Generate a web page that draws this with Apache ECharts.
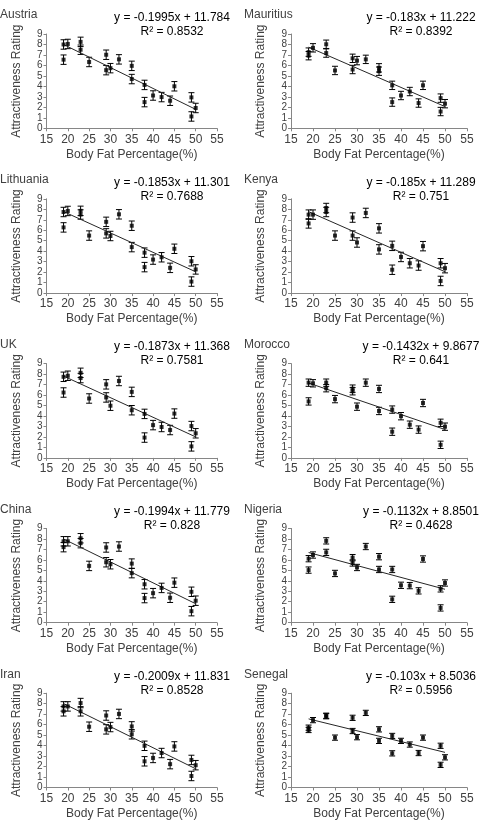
<!DOCTYPE html>
<html>
<head>
<meta charset="utf-8">
<script src="https://cdn.jsdelivr.net/npm/echarts@6/dist/echarts.min.js"></script>
<style>
  html, body { margin: 0; padding: 0; background: #fff; }
  #main { width: 481px; height: 825px; }
</style>
</head>
<body>
<div id="main"></div>
<script>
// body fat levels of the stimuli (same for every country)
var xFat = [19, 19, 20, 23, 23, 25, 29, 29, 30, 32, 35, 35, 38, 38, 40, 42, 44, 45, 49, 49, 50];

// mean attractiveness ratings
var austria   = [8.0, 6.55, 8.05, 8.25, 7.5, 6.33, 7.02, 5.55, 5.74, 6.58, 5.96, 4.7, 4.14, 2.5, 3.13, 2.98, 2.63, 4.01, 2.95, 1.13, 1.94];
var mauritius = [7.27, 6.93, 7.68, 8.02, 7.18, 5.52, 6.68, 5.61, 6.46, 6.58, 5.77, 5.45, 4.1, 2.5, 3.13, 3.51, 2.41, 4.1, 2.88, 1.6, 2.35];
var lithuania = [7.74, 6.27, 7.84, 7.85, 7.5, 5.49, 6.8, 5.7, 5.45, 7.52, 6.43, 4.39, 3.86, 2.48, 3.2, 3.42, 2.41, 4.23, 3.04, 1.1, 2.26];
var kenya     = [7.49, 6.65, 7.49, 8.12, 7.74, 5.49, 7.21, 5.49, 4.83, 7.65, 6.18, 4.17, 4.51, 2.23, 3.45, 2.85, 2.63, 4.48, 2.85, 1.16, 2.38];
var uk        = [7.74, 6.24, 7.84, 8.12, 7.62, 5.67, 7.02, 5.77, 4.98, 7.34, 6.3, 4.55, 4.2, 1.94, 3.13, 2.95, 2.66, 4.23, 3.04, 1.1, 2.35];
var morocco   = [7.18, 5.39, 7.12, 7.18, 6.65, 5.61, 6.61, 6.36, 4.89, 7.18, 6.58, 4.48, 4.61, 2.5, 3.98, 3.17, 2.7, 5.24, 3.35, 1.25, 2.98];
var china     = [7.77, 7.21, 7.77, 8.06, 7.59, 5.42, 7.18, 5.77, 5.58, 7.27, 5.64, 4.73, 3.67, 2.35, 2.82, 3.32, 2.38, 3.82, 2.95, 1.1, 2.1];
var nigeria   = [6.11, 5.02, 6.46, 7.81, 6.71, 4.7, 6.21, 5.7, 5.27, 7.27, 6.3, 5.08, 5.08, 2.23, 3.57, 3.54, 3.04, 6.08, 3.23, 1.41, 3.79];
var iran      = [7.74, 7.27, 7.74, 8.06, 7.27, 5.8, 6.87, 5.55, 5.77, 7.02, 5.83, 5.08, 3.98, 2.5, 2.82, 3.29, 2.23, 3.92, 2.63, 1.1, 2.13];
var senegal   = [5.71, 5.49, 6.43, 6.85, 6.8, 4.76, 6.65, 5.39, 4.8, 7.12, 5.55, 4.45, 4.92, 3.26, 4.45, 4.1, 3.29, 4.76, 3.98, 2.16, 2.88];

var countries = ['Austria', 'Mauritius', 'Lithuania', 'Kenya', 'UK', 'Morocco', 'China', 'Nigeria', 'Iran', 'Senegal'];
var ratings = [austria, mauritius, lithuania, kenya, uk, morocco, china, nigeria, iran, senegal];
// half length of the error bars
var errBar = [0.45, 0.4, 0.45, 0.45, 0.45, 0.35, 0.45, 0.3, 0.45, 0.25];
// trend lines as printed on the panels
var slopes = [-0.1995, -0.183, -0.1853, -0.185, -0.1873, -0.1432, -0.1994, -0.1132, -0.2009, -0.103];
var intercepts = [11.784, 11.222, 11.301, 11.289, 11.368, 9.8677, 11.779, 8.8501, 11.831, 8.5036];
var eqTexts = ['y = -0.1995x + 11.784', 'y = -0.183x + 11.222', 'y = -0.1853x + 11.301', 'y = -0.185x + 11.289',
    'y = -0.1873x + 11.368', 'y = -0.1432x + 9.8677', 'y = -0.1994x + 11.779', 'y = -0.1132x + 8.8501',
    'y = -0.2009x + 11.831', 'y = -0.103x + 8.5036'];
var r2Texts = ['R² = 0.8532', 'R² = 0.8392', 'R² = 0.7688', 'R² = 0.751', 'R² = 0.7581',
    'R² = 0.641', 'R² = 0.828', 'R² = 0.4628', 'R² = 0.8528', 'R² = 0.5956'];
var xRange = [15, 55];
var yRange = [0, 9];

var chart = echarts.init(document.getElementById('main'), null, { renderer: 'canvas' });

var textColor = '#404040';
var axisColor = '#868686';
var font = 'Liberation Sans, Arial, sans-serif';
var rowStep = 164.8;

var grids = [], xAxes = [], yAxes = [], series = [], graphics = [];

for (var i = 0; i < countries.length; i++) {
    var col = i % 2;
    var row = Math.floor(i / 2);
    var offY = row * rowStep;
    grids.push({
        left: col == 0 ? 46.5 : 291,
        width: col == 0 ? 170.5 : 176,
        top: 34 + offY,
        height: 94.3
    });
    xAxes.push({
        gridIndex: i,
        type: 'value',
        min: xRange[0],
        max: xRange[1],
        interval: 5,
        name: 'Body Fat Percentage(%)',
        nameLocation: 'middle',
        nameGap: 20,
        nameTextStyle: { fontSize: 12, color: textColor, fontFamily: font },
        axisLine: { show: true, lineStyle: { color: axisColor, width: 1 } },
        axisTick: { show: true, length: 3, lineStyle: { color: axisColor } },
        axisLabel: { fontSize: 12, color: textColor, fontFamily: font, margin: 5, showMinLabel: true, showMaxLabel: true, hideOverlap: false },
        splitLine: { show: false }
    });
    yAxes.push({
        gridIndex: i,
        type: 'value',
        min: yRange[0],
        max: yRange[1],
        interval: 1,
        name: 'Attractiveness Rating',
        nameLocation: 'middle',
        nameGap: 24,
        nameTextStyle: { fontSize: 12, color: textColor, fontFamily: font },
        axisLine: { show: true, lineStyle: { color: axisColor, width: 1 } },
        axisTick: { show: true, length: 3, lineStyle: { color: axisColor } },
        axisLabel: { fontSize: 10, lineHeight: 9, color: textColor, fontFamily: font, margin: 4, showMinLabel: true, showMaxLabel: true, hideOverlap: false },
        splitLine: { show: false }
    });

    var pts = [], errs = [];
    for (var k = 0; k < xFat.length; k++) {
        pts.push([xFat[k], ratings[i][k]]);
        errs.push([xFat[k], ratings[i][k], errBar[i]]);
    }
    var x0 = xFat[0], x1 = xFat[xFat.length - 1];

    series.push({
        type: 'custom',
        xAxisIndex: i,
        yAxisIndex: i,
        silent: true,
        z: 2,
        data: errs,
        renderItem: function (params, api) {
            var x = api.value(0), y = api.value(1), e = api.value(2);
            var top = api.coord([x, y + e]);
            var bot = api.coord([x, y - e]);
            var cap = 3;
            var st = { stroke: '#000', lineWidth: 1 };
            return {
                type: 'group',
                children: [
                    { type: 'line', shape: { x1: top[0], y1: top[1], x2: bot[0], y2: bot[1] }, style: st },
                    { type: 'line', shape: { x1: top[0] - cap, y1: top[1], x2: top[0] + cap, y2: top[1] }, style: st },
                    { type: 'line', shape: { x1: bot[0] - cap, y1: bot[1], x2: bot[0] + cap, y2: bot[1] }, style: st }
                ]
            };
        }
    });
    series.push({
        type: 'line',
        xAxisIndex: i,
        yAxisIndex: i,
        silent: true,
        z: 3,
        symbol: 'none',
        lineStyle: { color: '#262626', width: 1 },
        data: [[x0, slopes[i] * x0 + intercepts[i]], [x1, slopes[i] * x1 + intercepts[i]]]
    });
    series.push({
        type: 'scatter',
        xAxisIndex: i,
        yAxisIndex: i,
        z: 4,
        symbol: 'rect',
        symbolSize: 4,
        itemStyle: { color: '#000' },
        data: pts
    });

    var cx = col == 0 ? 172 : 421;
    graphics.push({
        type: 'text', left: col == 0 ? 0 : 244, top: 9 + offY,
        style: { text: countries[i], fontSize: 12, fontFamily: font, fill: textColor }
    });
    graphics.push({
        type: 'text', x: cx, y: 17.5 + offY,
        style: { text: eqTexts[i], fontSize: 12, fontFamily: font, fill: '#000', textAlign: 'center', textVerticalAlign: 'middle' }
    });
    graphics.push({
        type: 'text', x: cx, y: 31.5 + offY,
        style: { text: r2Texts[i], fontSize: 12, fontFamily: font, fill: '#000', textAlign: 'center', textVerticalAlign: 'middle' }
    });
}

var option = {
    animation: false,
    backgroundColor: '#fff',
    grid: grids,
    xAxis: xAxes,
    yAxis: yAxes,
    series: series,
    graphic: graphics
};
chart.setOption(option);
</script>
</body>
</html>
